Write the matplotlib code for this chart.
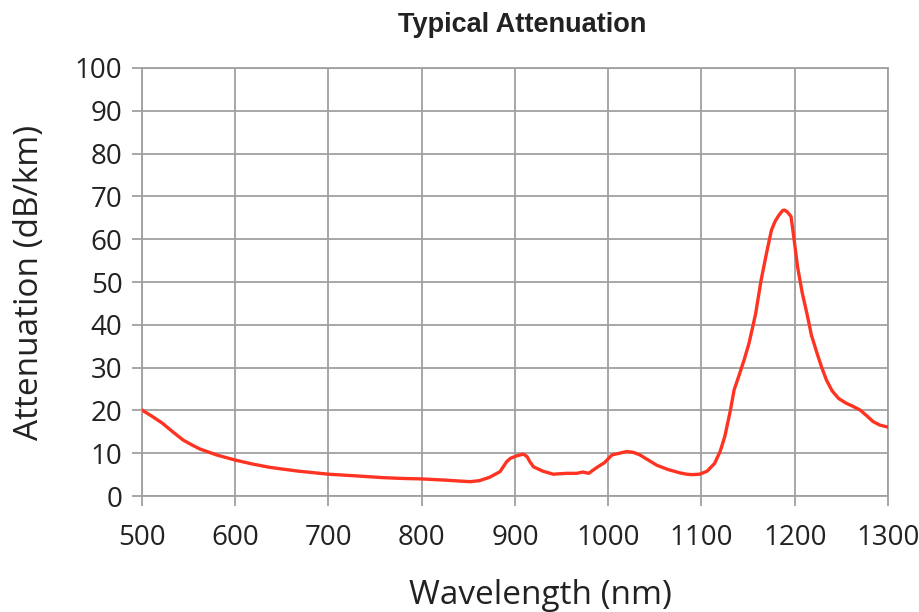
import matplotlib.pyplot as plt
import numpy as np

wavelength = [500, 511, 522, 533, 544, 553, 562, 580, 600, 618, 637, 668, 700, 730, 758, 780,
              800, 826, 852, 862, 873, 884, 891, 895, 902, 909, 913, 916, 920, 930, 941, 955,
              966, 973, 979, 988, 996, 1004, 1012, 1020, 1027, 1034, 1043, 1052, 1064, 1077,
              1084, 1090, 1098, 1106, 1114, 1120, 1125, 1131, 1135, 1140, 1146, 1151, 1158,
              1164, 1170, 1175, 1179, 1183, 1187, 1189, 1192, 1196, 1199, 1203, 1208, 1213,
              1218, 1224, 1229, 1234, 1240, 1247, 1255, 1262, 1270, 1277, 1284, 1291, 1298, 1300]
attenuation = [20.1, 18.6, 17.0, 15.0, 13.1, 12.0, 11.0, 9.6, 8.4, 7.5, 6.7, 5.8, 5.1, 4.7,
               4.3, 4.1, 4.0, 3.7, 3.35, 3.6, 4.4, 5.7, 8.0, 8.8, 9.4, 9.8, 9.2, 8.0, 6.8,
               5.8, 5.1, 5.3, 5.3, 5.6, 5.3, 6.7, 7.8, 9.6, 10.0, 10.4, 10.2, 9.6, 8.4,
               7.2, 6.2, 5.4, 5.1, 5.0, 5.1, 5.8, 7.6, 10.4, 13.9, 20.0, 24.8, 28.0, 32.0,
               35.7, 42.5, 50.5, 57.0, 62.1, 64.2, 65.6, 66.7, 66.8, 66.4, 65.3, 60.5, 53.6,
               47.5, 42.7, 37.5, 33.3, 30.0, 27.1, 24.6, 22.8, 21.7, 21.0, 20.1, 18.8, 17.4,
               16.6, 16.2, 16.1]

xticks = np.arange(500, 1301, 100)
yticks = np.arange(0, 101, 10)

fig = plt.figure(figsize=(9.2, 6.12), dpi=100)
ax = fig.add_axes([0.1543, 0.1895, 0.8109, 0.6994])

ax.plot(wavelength, attenuation, color='#ff3322', linewidth=2.4, zorder=5,
        solid_joinstyle='round', solid_capstyle='round')

ax.set_xlim(500, 1300)
ax.set_ylim(0, 100)
ax.set_xticks(xticks)
ax.set_yticks(yticks)
ax.grid(True, color='#a0a0a0', linewidth=1.3, zorder=1)
for s in ax.spines.values():
    s.set_color('#a0a0a0')
    s.set_linewidth(1.3)
ax.tick_params(direction='out', length=7, width=1.3, color='#a0a0a0',
               labelsize=20, labelcolor='#222222')
ax.tick_params(axis='x', pad=13)
ax.tick_params(axis='y', pad=7)
for lab in ax.get_xticklabels() + ax.get_yticklabels():
    lab.set_family('Open Sans')

ax.set_xlabel('Wavelength (nm)', fontsize=24, family='Open Sans', color='#222222')
ax.set_ylabel('Attenuation (dB/km)', fontsize=24, family='Open Sans', color='#222222')
ax.xaxis.set_label_coords(0.534, -0.193)
ax.yaxis.set_label_coords(-0.128, 0.5)
fig.text(0.568, 0.948, 'Typical Attenuation', ha='center', va='baseline', fontsize=19.5,
         fontweight='bold', family='Liberation Sans', color='#222222')

plt.savefig('out.png', dpi=100)
